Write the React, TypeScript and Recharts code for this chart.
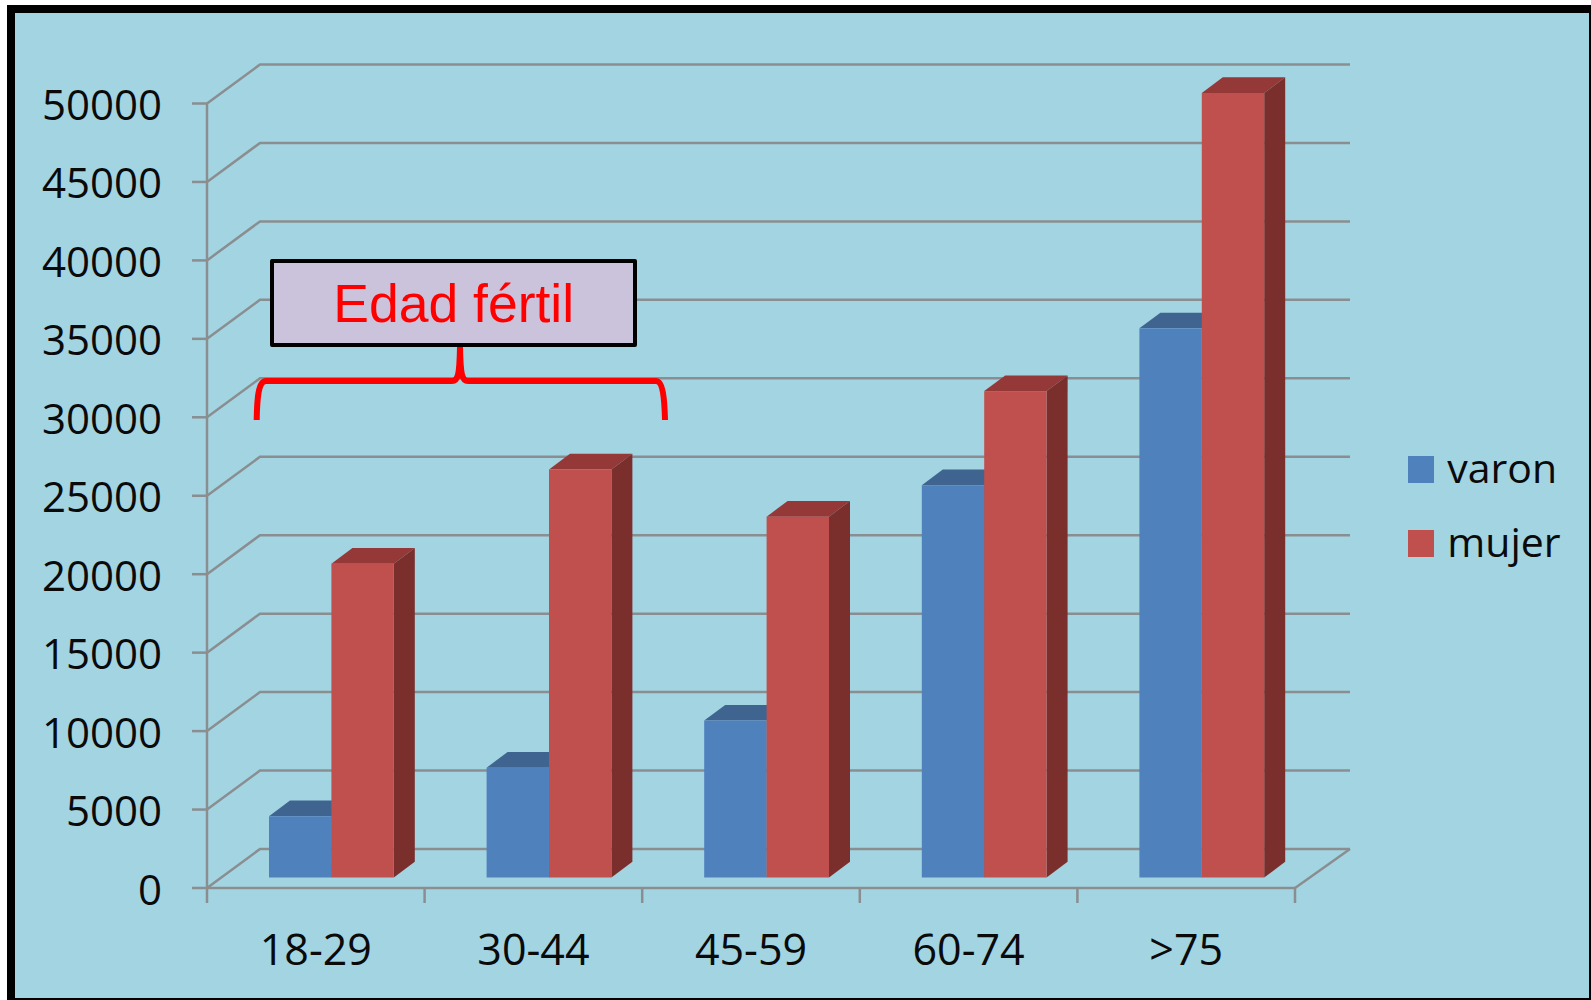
import React from "react";
import { BarChart, Bar, XAxis, YAxis, CartesianGrid, Legend } from "recharts";

const categories = ["18-29", "30-44", "45-59", "60-74", ">75"];
const varon = [3900, 7000, 10000, 25000, 35000];
const mujer = [20000, 26000, 23000, 31000, 50000];
const yTicks = [0, 5000, 10000, 15000, 20000, 25000, 30000, 35000, 40000, 45000, 50000];

const rows = categories.map((c, i) => ({ c, varon: varon[i], mujer: mujer[i] }));

const GRID = "#8a8e90";
const LINE = 2.5;
const BG = "#a3d4e2";
const INK = "#0a0a0a";
const FONT = "'Open Sans', sans-serif";
const WALL_DX = 53;
const WALL_END_DX = 55;
const WALL_DY = 39;
const BAR_DX = 16;
const BAR_DY = 10.5;
const SIDE_DX = 21;
const SIDE_DY = 15.7;
const X_TICK_LEN = 15;
const X_LABEL_DROP = 77;

const Bar3D = (top: string, side: string) => (p: any) => {
  const x = p.x + BAR_DX;
  const y = p.y - BAR_DY;
  const w = p.width;
  const h = p.height;
  return (
    <g>
      <polygon points={`${x},${y} ${x + SIDE_DX},${y - SIDE_DY} ${x + w + SIDE_DX},${y - SIDE_DY} ${x + w},${y}`} fill={top} />
      <polygon points={`${x + w},${y} ${x + w + SIDE_DX},${y - SIDE_DY} ${x + w + SIDE_DX},${y + h - SIDE_DY} ${x + w},${y + h}`} fill={side} />
      <rect x={x} y={y} width={w} height={h} fill={p.fill} />
    </g>
  );
};

const WallLine = (p: any) => {
  const isFloor = Math.abs(p.y1 - 888) < 2;
  return (
    <g key={p.key}>
      <polyline
        points={`${p.x1},${p.y1} ${p.x1 + WALL_DX},${p.y1 - WALL_DY} ${p.x2 + WALL_END_DX},${p.y1 - WALL_DY}`}
        fill="none"
        stroke={GRID}
        strokeWidth={LINE}
      />
      {isFloor ? <line x1={p.x2} y1={p.y1} x2={p.x2 + WALL_END_DX} y2={p.y1 - WALL_DY} stroke={GRID} strokeWidth={LINE} /> : null}
    </g>
  );
};

const CatTick = (p: any) => {
  const band = p.width / p.visibleTicksCount;
  const isLast = p.index === p.visibleTicksCount - 1;
  const left = p.x - band / 2;
  return (
    <g>
      <line x1={left} y1={p.y} x2={left} y2={p.y + X_TICK_LEN} stroke={GRID} strokeWidth={LINE} />
      {isLast ? <line x1={left + band} y1={p.y} x2={left + band} y2={p.y + X_TICK_LEN} stroke={GRID} strokeWidth={LINE} /> : null}
      <text x={p.x} y={p.y + X_LABEL_DROP} textAnchor="middle" fontFamily={FONT} fontSize={43} fill={INK}>
        {p.payload.value}
      </text>
    </g>
  );
};

const LegendBox = (props: any) => {
  const items = props.payload || [];
  return (
    <div style={{ position: "absolute", left: 0, top: 0, width: 180 }}>
      {items.map((it: any, i: number) => (
        <div key={it.value} style={{ position: "absolute", left: 0, top: i * 74, width: 180, height: 60 }}>
          <div style={{ position: "absolute", left: 0, top: 0, width: 26, height: 26.5, background: it.color }} />
          <div style={{ position: "absolute", left: 39, top: -19, fontFamily: FONT, fontSize: 41, lineHeight: "60px", color: INK, whiteSpace: "nowrap" }}>
            {it.value}
          </div>
        </div>
      ))}
    </div>
  );
};

export default function App() {
  return (
    <div style={{ position: "absolute", left: 0, top: 0, width: 1591, height: 1000, overflow: "hidden", background: "#fff" }}>
      <div style={{ position: "absolute", left: 7, top: 4.5, width: 1584, height: 995.5, background: "#000" }} />
      <div style={{ position: "absolute", left: 15, top: 12.5, width: 1573.5, height: 985.5, background: BG }} />
      <div style={{ position: "absolute", left: 0, top: 0 }}>
        <BarChart
          width={1591}
          height={1000}
          data={rows}
          margin={{ top: 103.5, right: 296, bottom: 0, left: 0 }}
          barGap={0}
          barCategoryGap={0}
          barSize={62.4}
        >
          <CartesianGrid horizontal={WallLine as any} vertical={false} />
          <XAxis
            dataKey="c"
            height={112}
            axisLine={{ stroke: GRID, strokeWidth: LINE }}
            tickLine={false}
            tickSize={0}
            tickMargin={0}
            tick={CatTick as any}
            interval={0}
          />
          <YAxis
            width={207}
            domain={[0, 50000]}
            ticks={yTicks}
            interval={0}
            tickSize={15}
            tickMargin={30}
            tick={{ fontFamily: FONT, fontSize: 42, fill: INK, dy: 1.6 }}
            axisLine={{ stroke: GRID, strokeWidth: LINE }}
            tickLine={{ stroke: GRID, strokeWidth: LINE }}
          />
          <Legend
            layout="vertical"
            align="right"
            verticalAlign="top"
            width={0}
            height={0}
            itemSorter={null}
            wrapperStyle={{ left: 1408.3, top: 456, right: "auto", width: 0, height: 0 }}
            content={<LegendBox />}
          />
          <Bar dataKey="varon" name="varon" fill="#4f81bd" shape={Bar3D("#3f648f", "#3a5c86")} isAnimationActive={false} />
          <Bar dataKey="mujer" name="mujer" fill="#c0504d" shape={Bar3D("#953938", "#7a2f2d")} isAnimationActive={false} />
        </BarChart>
      </div>
      <svg width={1591} height={1000} style={{ position: "absolute", left: 0, top: 0 }}>
        <path
          d="M256.7 420 C257 400 258 381 266 381 L452 381 C458 381 459.5 375 460 347 C460.5 375 462 381 468 381 L656 381 C663 381 664.5 400 665 420"
          fill="none"
          stroke="#ff0000"
          strokeWidth={6}
        />
        <rect x={272} y={261} width={363} height={84} fill="#cbc3db" stroke="#000" strokeWidth={4} strokeLinejoin="round" />
        <text x={453.7} y={322.3} textAnchor="middle" fontFamily="'Liberation Sans', Arial, sans-serif" fontSize={53.5} fill="#ff0000">
          Edad fértil
        </text>
      </svg>
    </div>
  );
}
